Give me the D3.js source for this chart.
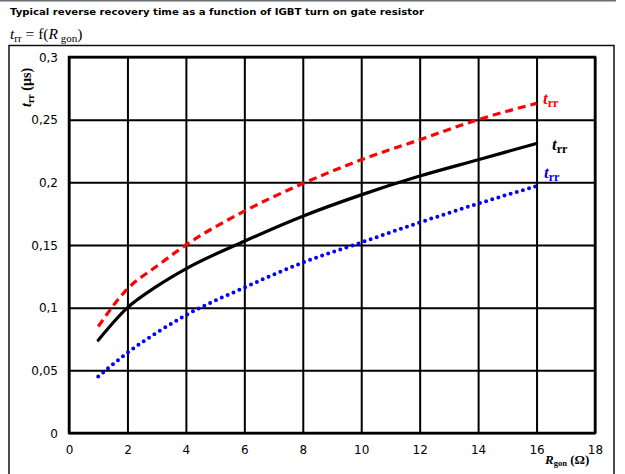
<!DOCTYPE html>
<html>
<head>
<meta charset="utf-8">
<script src="https://cdn.jsdelivr.net/npm/d3@7"></script>
<style>
  html, body { margin: 0; padding: 0; background: #fff; }
  svg { display: block; }
</style>
</head>
<body>
<svg id="chart" width="625" height="474"></svg>
<script>
// ---- data ----
const rgon = [1, 2, 3, 4, 6, 8, 10, 12, 14, 16];
const trrRed   = [0.085, 0.115, 0.133, 0.150, 0.177, 0.199, 0.218, 0.234, 0.250, 0.263];
const trrBlack = [0.074, 0.100, 0.117, 0.131, 0.153, 0.173, 0.190, 0.205, 0.218, 0.231];
const trrBlue  = [0.045, 0.064, 0.080, 0.094, 0.116, 0.136, 0.152, 0.168, 0.183, 0.197];
const xTicks = [0, 2, 4, 6, 8, 10, 12, 14, 16, 18];
const yTicks = [0, 0.05, 0.1, 0.15, 0.2, 0.25, 0.3];
const yTickLabels = ["0", "0,05", "0,1", "0,15", "0,2", "0,25", "0,3"];

const svg = d3.select("#chart");
const L = 69, R = 595, T = 57, B = 433;

svg.append("rect").attr("width", 625).attr("height", 474).attr("fill", "#fff");
// top rule
svg.append("line").attr("x1", 0).attr("x2", 616).attr("y1", 0.5).attr("y2", 0.5)
  .attr("stroke", "#6b6f75").attr("stroke-width", 2);
// title
svg.append("text").attr("x", 10).attr("y", 15)
  .attr("font-family", "DejaVu Sans, Verdana, sans-serif").attr("font-weight", "bold")
  .attr("font-size", 9).attr("textLength", 414).attr("lengthAdjust", "spacingAndGlyphs")
  .text("Typical reverse recovery time as a function of IGBT turn on gate resistor");

// subtitle t_rr = f(R_gon)
const sub = svg.append("text").attr("x", 10).attr("y", 39)
  .attr("font-family", "Liberation Serif, DejaVu Serif, serif").attr("font-size", 15.5);
sub.append("tspan").attr("font-style", "italic").text("t");
sub.append("tspan").attr("font-size", 11).attr("dy", 3).text("rr");
sub.append("tspan").attr("dy", -3).text(" = f(");
sub.append("tspan").attr("font-style", "italic").text("R");
sub.append("tspan").attr("font-size", 11).attr("dy", 3).text(" gon");
sub.append("tspan").attr("dy", -3).text(")");

// outer frame
svg.append("path").attr("d", `M9,480 V45.5 H614 V480`).attr("fill", "none")
  .attr("stroke", "#111").attr("stroke-width", 1.5);

// scales
const x = d3.scaleLinear().domain([0, 18]).range([L, R]);
const y = d3.scaleLinear().domain([0, 0.3]).range([B, T]);

// axes with gridlines
const gx = svg.append("g").attr("transform", `translate(0,${B})`)
  .call(d3.axisBottom(x).tickValues(xTicks).tickSize(-(B - T)).tickPadding(12).tickFormat(d3.format("d")));
const gy = svg.append("g").attr("transform", `translate(${L},0)`)
  .call(d3.axisLeft(y).tickValues(yTicks).tickSize(-(R - L)).tickPadding(11)
    .tickFormat((d, i) => yTickLabels[i]));
[gx, gy].forEach(g => {
  g.select(".domain").remove();
  g.selectAll(".tick line").attr("stroke", "#000").attr("stroke-width", 2);
  g.selectAll(".tick text").attr("fill", "#000")
    .attr("font-family", "DejaVu Sans, Verdana, sans-serif").attr("font-size", 12);
});
gy.selectAll(".tick text").attr("dy", "0.35em");
// plot border
svg.append("rect").attr("x", L).attr("y", T).attr("width", R - L).attr("height", B - T)
  .attr("fill", "none").attr("stroke", "#000").attr("stroke-width", 2.5);

// curves
const line = d3.line().x(d => x(d[0])).y(d => y(d[1])).curve(d3.curveMonotoneX);
const zip = vals => rgon.map((r, i) => [r, vals[i]]);
svg.append("path").attr("d", line(zip(trrRed))).attr("fill", "none")
  .attr("stroke", "#ff0000").attr("stroke-width", 3.2).attr("stroke-dasharray", "8,5");
svg.append("path").attr("d", line(zip(trrBlack))).attr("fill", "none")
  .attr("stroke", "#000").attr("stroke-width", 3.2).attr("stroke-linecap", "round");
svg.append("path").attr("d", line(zip(trrBlue))).attr("fill", "none")
  .attr("stroke", "#0000ff").attr("stroke-width", 4).attr("stroke-linecap", "round")
  .attr("stroke-dasharray", "0,6.4");

// curve labels
function trrLabel(px, py, color) {
  const t = svg.append("text").attr("x", px).attr("y", py).attr("fill", color)
    .attr("font-family", "Liberation Serif, DejaVu Serif, serif").attr("font-weight", "bold")
    .attr("font-size", 17);
  t.append("tspan").attr("font-style", "italic").text("t");
  t.append("tspan").attr("font-size", 12).attr("dy", 3).text("rr");
}
trrLabel(543, 104, "#ff0000");
trrLabel(552, 150, "#000");
trrLabel(544, 178, "#0000ff");

// y-axis title
const yt = svg.append("text").attr("transform", "translate(31,107) rotate(-90)")
  .attr("font-family", "Liberation Serif, DejaVu Serif, serif").attr("font-weight", "bold")
  .attr("font-size", 14);
yt.append("tspan").attr("font-style", "italic").text("t");
yt.append("tspan").attr("font-size", 10).attr("dy", 3).text("rr");
yt.append("tspan").attr("dy", -3).text(" (µs)");

// x-axis title
const xt = svg.append("text").attr("x", 545).attr("y", 464)
  .attr("font-family", "Liberation Serif, DejaVu Serif, serif").attr("font-weight", "bold")
  .attr("font-size", 13);
xt.append("tspan").attr("font-style", "italic").text("R");
xt.append("tspan").attr("font-size", 8.5).attr("dy", 2).text("gon");
xt.append("tspan").attr("dy", -2).text(" (Ω)");
</script>
</body>
</html>
